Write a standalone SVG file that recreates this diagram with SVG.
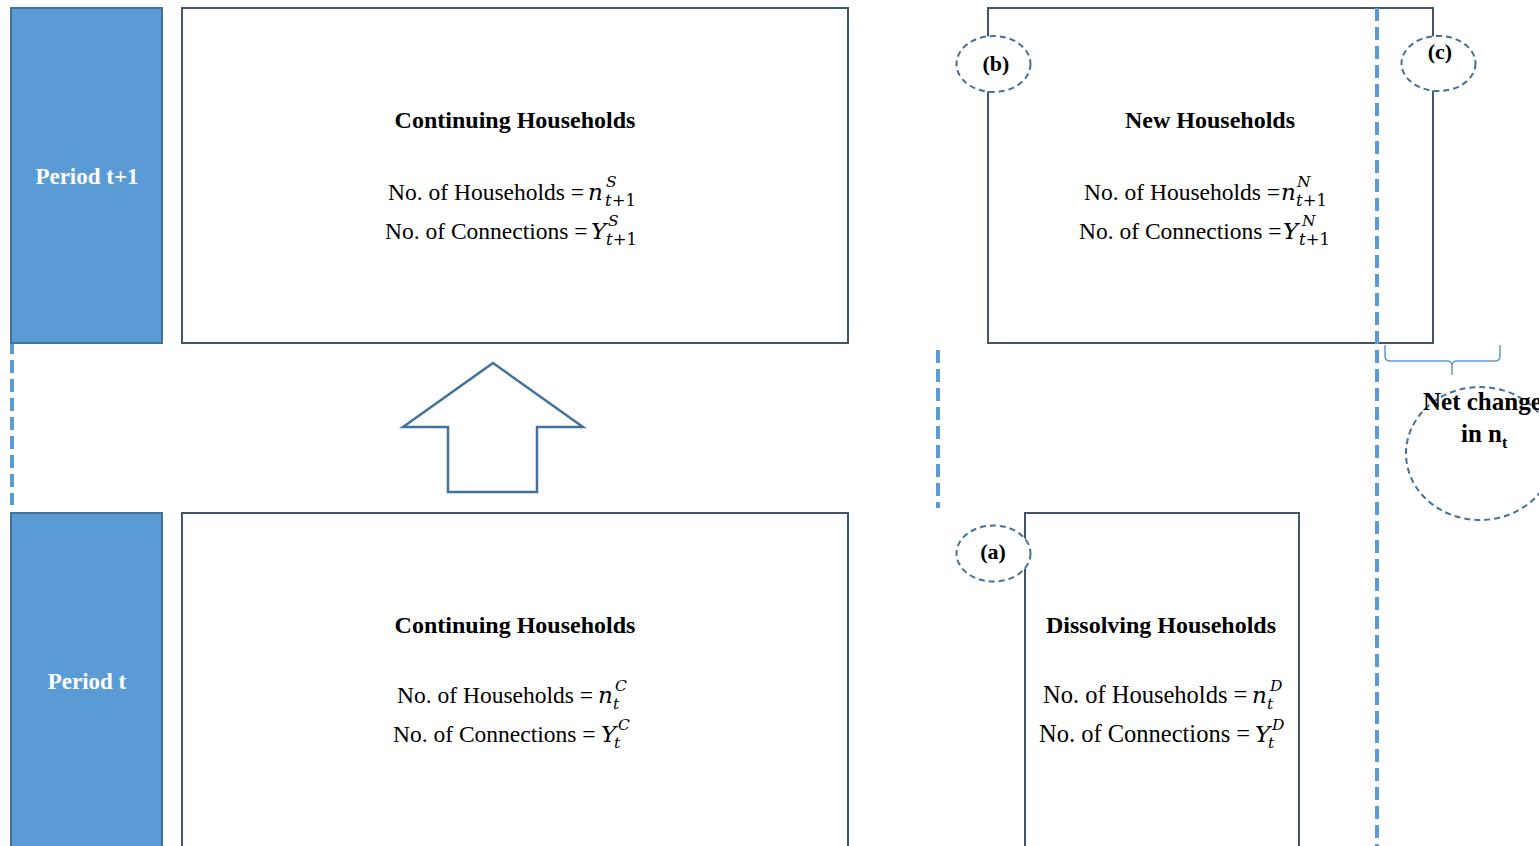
<svg xmlns="http://www.w3.org/2000/svg" width="1539" height="846" viewBox="0 0 1539 846">
<style>
.bar{fill:#5B9BD5;stroke:#41719C;stroke-width:2}
.box{fill:#fff;stroke:#44546A;stroke-width:2}
.bartxt{font-family:"Liberation Serif",serif;font-weight:bold;font-size:23px;fill:#fff;text-anchor:middle}
.title{font-family:"Liberation Serif",serif;font-weight:bold;font-size:24px;fill:#000;text-anchor:middle}
.eq{font-family:"Liberation Serif",serif;font-size:23.5px;fill:#000}
.eqd{font-family:"Liberation Serif",serif;font-size:24.5px;fill:#000}
.m{font-family:"DejaVu Serif",serif;font-style:italic;font-size:23px}
.sup{font-family:"DejaVu Serif",serif;font-style:italic;font-size:15.5px}
.sub{font-family:"DejaVu Serif",serif;font-style:normal;font-size:16.5px}
.it{font-style:italic}
.lbl{font-family:"Liberation Serif",serif;font-weight:bold;font-size:22px;fill:#000;text-anchor:middle}
.net{font-family:"Liberation Serif",serif;font-weight:bold;font-size:25px;fill:#000}
.dash{stroke:#5B9BD5;stroke-width:4;stroke-dasharray:13,6;fill:none}
.ell{fill:#fff;stroke:#41719C;stroke-width:2;stroke-dasharray:6,4}
</style>
<rect width="1539" height="846" fill="#fff"/>
<g id="connectors">
<line class="dash" x1="12" y1="341" x2="12" y2="505"/>
<line class="dash" x1="938" y1="350" x2="938" y2="508"/>
<polygon points="493,363 403,427 448,427 448,492 537,492 537,427 583,427" fill="#fff" stroke="#41719C" stroke-width="2.5"/>
</g>
<g id="period-t1">
<rect class="bar" x="11" y="8" width="151" height="335"/>
<text class="bartxt" x="87" y="184">Period t+1</text>
</g>
<g id="period-t">
<rect class="bar" x="11" y="513" width="151" height="345"/>
<text class="bartxt" x="87" y="689">Period t</text>
</g>
<g id="continuing-t1">
<rect class="box" x="182" y="8" width="666" height="335"/>
<text class="title" x="515" y="128">Continuing Households</text>
<text class="eq" x="388" y="200">No. of Households =<tspan class="m" x="588">n</tspan><tspan class="sup" x="606" y="187">S</tspan><tspan class="sub" x="605" y="206"><tspan class="it">t</tspan>+1</tspan></text>
<text class="eq" x="385" y="239">No. of Connections =<tspan class="m" x="591">Y</tspan><tspan class="sup" x="608" y="226">S</tspan><tspan class="sub" x="606" y="245"><tspan class="it">t</tspan>+1</tspan></text>
</g>
<g id="continuing-t">
<rect class="box" x="182" y="513" width="666" height="345"/>
<text class="title" x="515" y="633">Continuing Households</text>
<text class="eq" x="397" y="703">No. of Households =<tspan class="m" x="598">n</tspan><tspan class="sup" x="615" y="691">C</tspan><tspan class="sup" x="613" y="709">t</tspan></text>
<text class="eq" x="393" y="742">No. of Connections =<tspan class="m" x="601">Y</tspan><tspan class="sup" x="618" y="730">C</tspan><tspan class="sup" x="614" y="748">t</tspan></text>
</g>
<g id="new">
<rect class="box" x="988" y="8" width="445" height="335"/>
<text class="title" x="1210" y="128">New Households</text>
<text class="eq" x="1084" y="200">No. of Households =<tspan class="m" x="1281">n</tspan><tspan class="sup" x="1297" y="187">N</tspan><tspan class="sub" x="1296" y="206"><tspan class="it">t</tspan>+1</tspan></text>
<text class="eq" x="1079" y="239">No. of Connections =<tspan class="m" x="1283">Y</tspan><tspan class="sup" x="1302" y="226">N</tspan><tspan class="sub" x="1299" y="245"><tspan class="it">t</tspan>+1</tspan></text>
</g>
<g id="dissolving">
<rect class="box" x="1025" y="513" width="274" height="345"/>
<text class="title" x="1161" y="633">Dissolving Households</text>
<text class="eqd" x="1043" y="703">No. of Households =<tspan class="m" x="1252">n</tspan><tspan class="sup" x="1270" y="691">D</tspan><tspan class="sup" x="1267" y="709">t</tspan></text>
<text class="eqd" x="1039" y="742">No. of Connections =<tspan class="m" x="1255">Y</tspan><tspan class="sup" x="1272" y="730">D</tspan><tspan class="sup" x="1268" y="748">t</tspan></text>
</g>
<g id="divider">
<line class="dash" x1="1377" y1="8" x2="1377" y2="846"/>
</g>
<g id="label-b">
<ellipse class="ell" cx="993.5" cy="64" rx="37" ry="28"/>
<text class="lbl" x="996" y="71">(b)</text>
</g>
<g id="label-c">
<ellipse class="ell" cx="1438.5" cy="63.5" rx="37" ry="27.5"/>
<text class="lbl" x="1440" y="59">(c)</text>
</g>
<g id="label-a">
<ellipse class="ell" cx="993.5" cy="553.5" rx="37" ry="28"/>
<text class="lbl" x="993" y="559">(a)</text>
</g>
<g id="bracket">
<path d="M1385,345 V356 Q1385,361 1390,361 H1447 Q1452,361 1452,366 V375 M1452,366 Q1452,361 1457,361 H1495 Q1500,361 1500,356 V345" fill="none" stroke="#5B9BD5" stroke-width="1.5"/>
</g>
<g id="net-change">
<ellipse cx="1480" cy="453.5" rx="74" ry="66.5" fill="none" stroke="#41719C" stroke-width="2" stroke-dasharray="6,4"/>
<text class="net" x="1423" y="410">Net change</text>
<text class="net" x="1461" y="442">in n<tspan font-size="16" dy="6">t</tspan></text>
</g>
</svg>
